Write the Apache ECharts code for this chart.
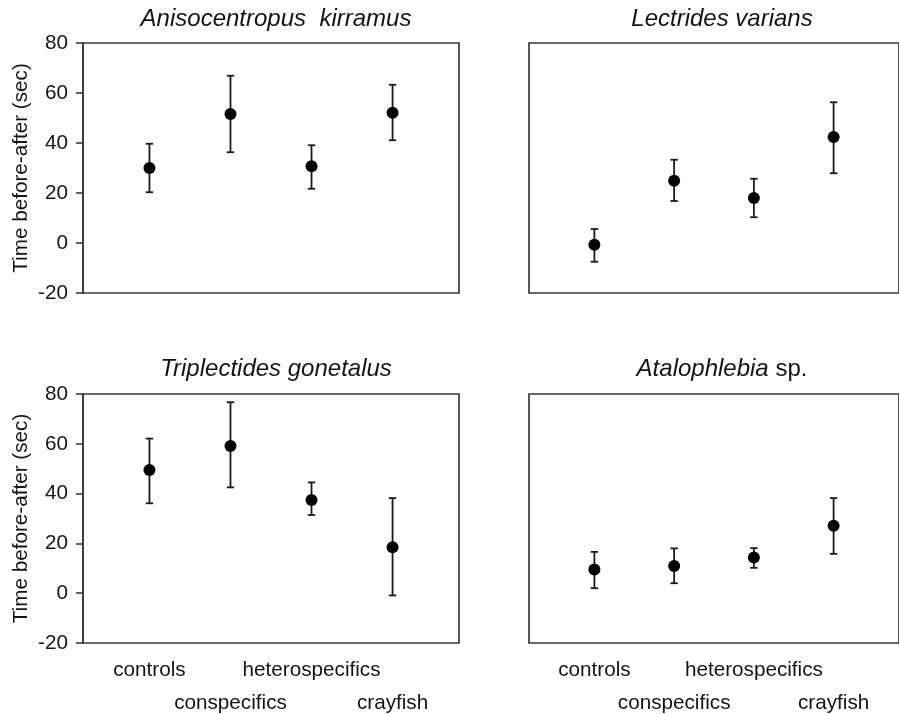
<!DOCTYPE html>
<html><head><meta charset="utf-8">
<script src="https://cdn.jsdelivr.net/npm/echarts@6/dist/echarts.min.js"></script>
<style>html,body{margin:0;padding:0;background:#fff}#c{width:899px;height:714px}</style>
</head><body><div id="c"></div>
<script>
const categories = ['controls', 'conspecifics', 'heterospecifics', 'crayfish'];
const categoryX = [1, 2, 3, 4];
const panelTitles = ['Anisocentropus  kirramus', 'Lectrides varians', 'Triplectides gonetalus', '{i|Atalophlebia} sp.'];
const yAxisTitle = 'Time before-after (sec)';
const yMin = -20, yMax = 80, yStep = 20;

const kirramusMean = [30.0, 51.6, 30.7, 52.1];
const kirramusLow  = [20.3, 36.3, 21.7, 41.1];
const kirramusHigh = [39.7, 66.9, 39.1, 63.3];

const variansMean = [-0.7, 24.9, 18.0, 42.4];
const variansLow  = [-7.5, 16.8, 10.3, 27.9];
const variansHigh = [5.6, 33.3, 25.7, 56.3];

const gonetalusMean = [49.5, 59.1, 37.4, 18.5];
const gonetalusLow  = [36.1, 42.5, 31.4, -0.9];
const gonetalusHigh = [62.1, 76.7, 44.5, 38.2];

const atalophlebiaMean = [9.5, 10.9, 14.3, 27.1];
const atalophlebiaLow  = [2.0, 4.0, 10.2, 15.8];
const atalophlebiaHigh = [16.6, 18.0, 18.1, 38.2];

const panels = [
  {mean: kirramusMean, low: kirramusLow, high: kirramusHigh},
  {mean: variansMean, low: variansLow, high: variansHigh},
  {mean: gonetalusMean, low: gonetalusLow, high: gonetalusHigh},
  {mean: atalophlebiaMean, low: atalophlebiaLow, high: atalophlebiaHigh}
];

const FONT = '"Liberation Sans", Arial, Helvetica, sans-serif';
const TXT = '#141414';
const FRAME = '#3a3a3a';
const layout = [
  {left: 83, top: 43, width: 376, height: 250, cx: 271, ty: 2},
  {left: 529, top: 43, width: 376, height: 250, cx: 717, ty: 2},
  {left: 83, top: 394, width: 376, height: 249, cx: 271, ty: 352},
  {left: 529, top: 394, width: 376, height: 249, cx: 717, ty: 352}
];

function renderErr(params, api) {
  const x = api.value(0), lo = api.value(1), hi = api.value(2);
  const a = api.coord([x, lo]), b = api.coord([x, hi]);
  const hw = 3.7;
  const style = {stroke: '#1a1a1a', lineWidth: 1.8, fill: null};
  return {type: 'group', children: [
    {type: 'line', shape: {x1: a[0], y1: a[1], x2: b[0], y2: b[1]}, style: style},
    {type: 'line', shape: {x1: a[0] - hw, y1: a[1], x2: a[0] + hw, y2: a[1]}, style: style},
    {type: 'line', shape: {x1: b[0] - hw, y1: b[1], x2: b[0] + hw, y2: b[1]}, style: style}
  ]};
}

// each grid gets two x axes: row 1 labels (controls, heterospecifics) and row 2 labels (conspecifics, crayfish)
const xAxes = [];
layout.forEach((L, i) => {
  [0, 1].forEach(row => {
    xAxes.push({
      type: 'value', gridIndex: i, min: 0.18, max: 4.82, position: 'bottom',
      axisLine: {show: false}, axisTick: {show: false}, splitLine: {show: false},
      axisLabel: {
        show: i >= 2, hideOverlap: false,
        customValues: categoryX.filter((x, k) => k % 2 === row),
        formatter: v => categories[Math.round(v) - 1],
        fontFamily: FONT, fontSize: 20.7, margin: row === 0 ? 17 : 50, color: TXT
      }
    });
  });
});

const option = {
  animation: false,
  backgroundColor: '#fff',
  title: layout.map((L, i) => ({
    text: panelTitles[i],
    left: L.cx, top: L.ty, textAlign: 'center',
    textStyle: {
      fontFamily: FONT, fontSize: 24, fontWeight: 'normal', color: TXT,
      fontStyle: i === 3 ? 'normal' : 'italic',
      rich: {i: {fontFamily: FONT, fontSize: 24, fontStyle: 'italic', color: TXT}}
    }
  })),
  grid: layout.map(L => ({left: L.left, top: L.top, width: L.width, height: L.height,
    show: true, borderColor: FRAME, borderWidth: 1.7, backgroundColor: 'transparent'})),
  xAxis: xAxes,
  yAxis: layout.map((L, i) => ({
    type: 'value', gridIndex: i, min: yMin, max: yMax, interval: yStep,
    axisLine: {show: i % 2 === 0, lineStyle: {color: FRAME, width: 1.7}},
    axisTick: {show: i % 2 === 0, length: 7, lineStyle: {color: FRAME, width: 1.6}},
    splitLine: {show: false},
    axisLabel: {show: i % 2 === 0, fontFamily: FONT, fontSize: 20.7, margin: 15, color: TXT},
    name: i % 2 === 0 ? yAxisTitle : '',
    nameLocation: 'middle', nameGap: 51,
    nameTextStyle: {fontFamily: FONT, fontSize: 20.7, color: TXT}
  })),
  series: panels.flatMap((p, i) => [
    {
      type: 'custom', xAxisIndex: i * 2, yAxisIndex: i, renderItem: renderErr,
      encode: {x: 0, y: [1, 2]}, z: 2,
      data: categoryX.map((x, k) => [x, p.low[k], p.high[k]])
    },
    {
      type: 'scatter', xAxisIndex: i * 2, yAxisIndex: i, symbol: 'circle', symbolSize: 12, z: 3,
      itemStyle: {color: '#000', opacity: 1},
      data: categoryX.map((x, k) => [x, p.mean[k]])
    }
  ])
};
const chart = echarts.init(document.getElementById('c'), null, {renderer: 'canvas'});
chart.setOption(option);
</script></body></html>
